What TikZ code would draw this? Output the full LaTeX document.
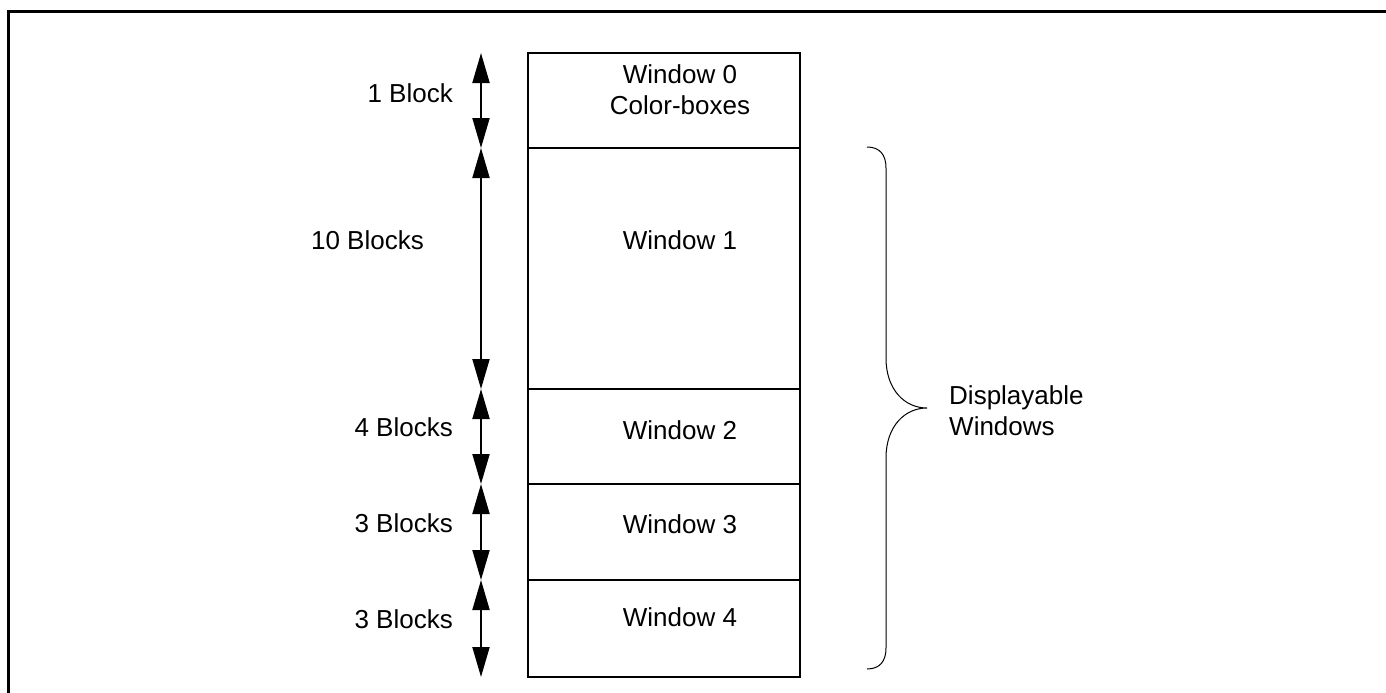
\documentclass[tikz,border=0pt]{standalone}
\usepackage{fontspec}
\setmainfont{Liberation Sans}
\usetikzlibrary{arrows.meta}
\begin{document}
\begin{tikzpicture}[x=1pt,y=-1pt,
  win/.style={draw,line width=2pt,minimum width=272pt,inner sep=0pt,outer sep=0pt,anchor=north west},
  txt/.style={inner sep=0pt,font=\fontsize{26}{31}\selectfont,align=center},
  lbl/.style={anchor=east,inner sep=0pt,font=\fontsize{26}{31}\selectfont},
  dbl/.style={line width=2pt,{Triangle[length=30pt,width=17pt]}-{Triangle[length=30pt,width=17pt]}},
  frame/.style={line width=3pt},
  brace/.style={line width=1pt}]
\useasboundingbox (0,0) rectangle (1386,693);
\draw[frame] (8,693) -- (8,12) -- (1386,12);
% windows
\node[win,minimum height=95pt] (w0) at (528,53) {};
\node[win,minimum height=241pt] (w1) at (528,148) {};
\node[win,minimum height=95pt] (w2) at (528,389) {};
\node[win,minimum height=96pt] (w3) at (528,484) {};
\node[win,minimum height=97pt] (w4) at (528,580) {};
\node[txt] (t0) at (680,90) {Window 0\\Color-boxes};
\node[txt] (t1) at (680,240) {Window 1};
\node[txt] (t2) at (680,430) {Window 2};
\node[txt] (t3) at (680,524) {Window 3};
\node[txt] (t4) at (680,617) {Window 4};
% arrows
\coordinate (ax) at (481,0);
\draw[dbl] (w0.north west -| ax) -- (w0.south west -| ax);
\draw[dbl] (w1.north west -| ax) -- (w1.south west -| ax);
\draw[dbl] (w2.north west -| ax) -- (w2.south west -| ax);
\draw[dbl] (w3.north west -| ax) -- (w3.south west -| ax);
\draw[dbl] (w4.north west -| ax) -- (w4.south west -| ax);
% labels
\node[lbl] (l0) at (453,93) {1 Block};
\node[lbl] (l1) at (424,240) {10 Blocks};
\node[lbl] (l2) at (453,427) {4 Blocks};
\node[lbl] (l3) at (453,523) {3 Blocks};
\node[lbl] (l4) at (453,619) {3 Blocks};
% brace
\draw[brace] (867,147) .. controls (880,147) and (886,155) .. (886,168)
  -- (886,358) .. controls (886,390) and (905,408) .. (927,408)
  .. controls (905,408) and (886,426) .. (886,458)
  -- (886,648) .. controls (886,661) and (880,669) .. (867,669);
\node[anchor=west,align=left,inner sep=0pt,font=\fontsize{26}{31}\selectfont] (dw) at (949,411) {Displayable\\Windows};
\end{tikzpicture}
\end{document}
